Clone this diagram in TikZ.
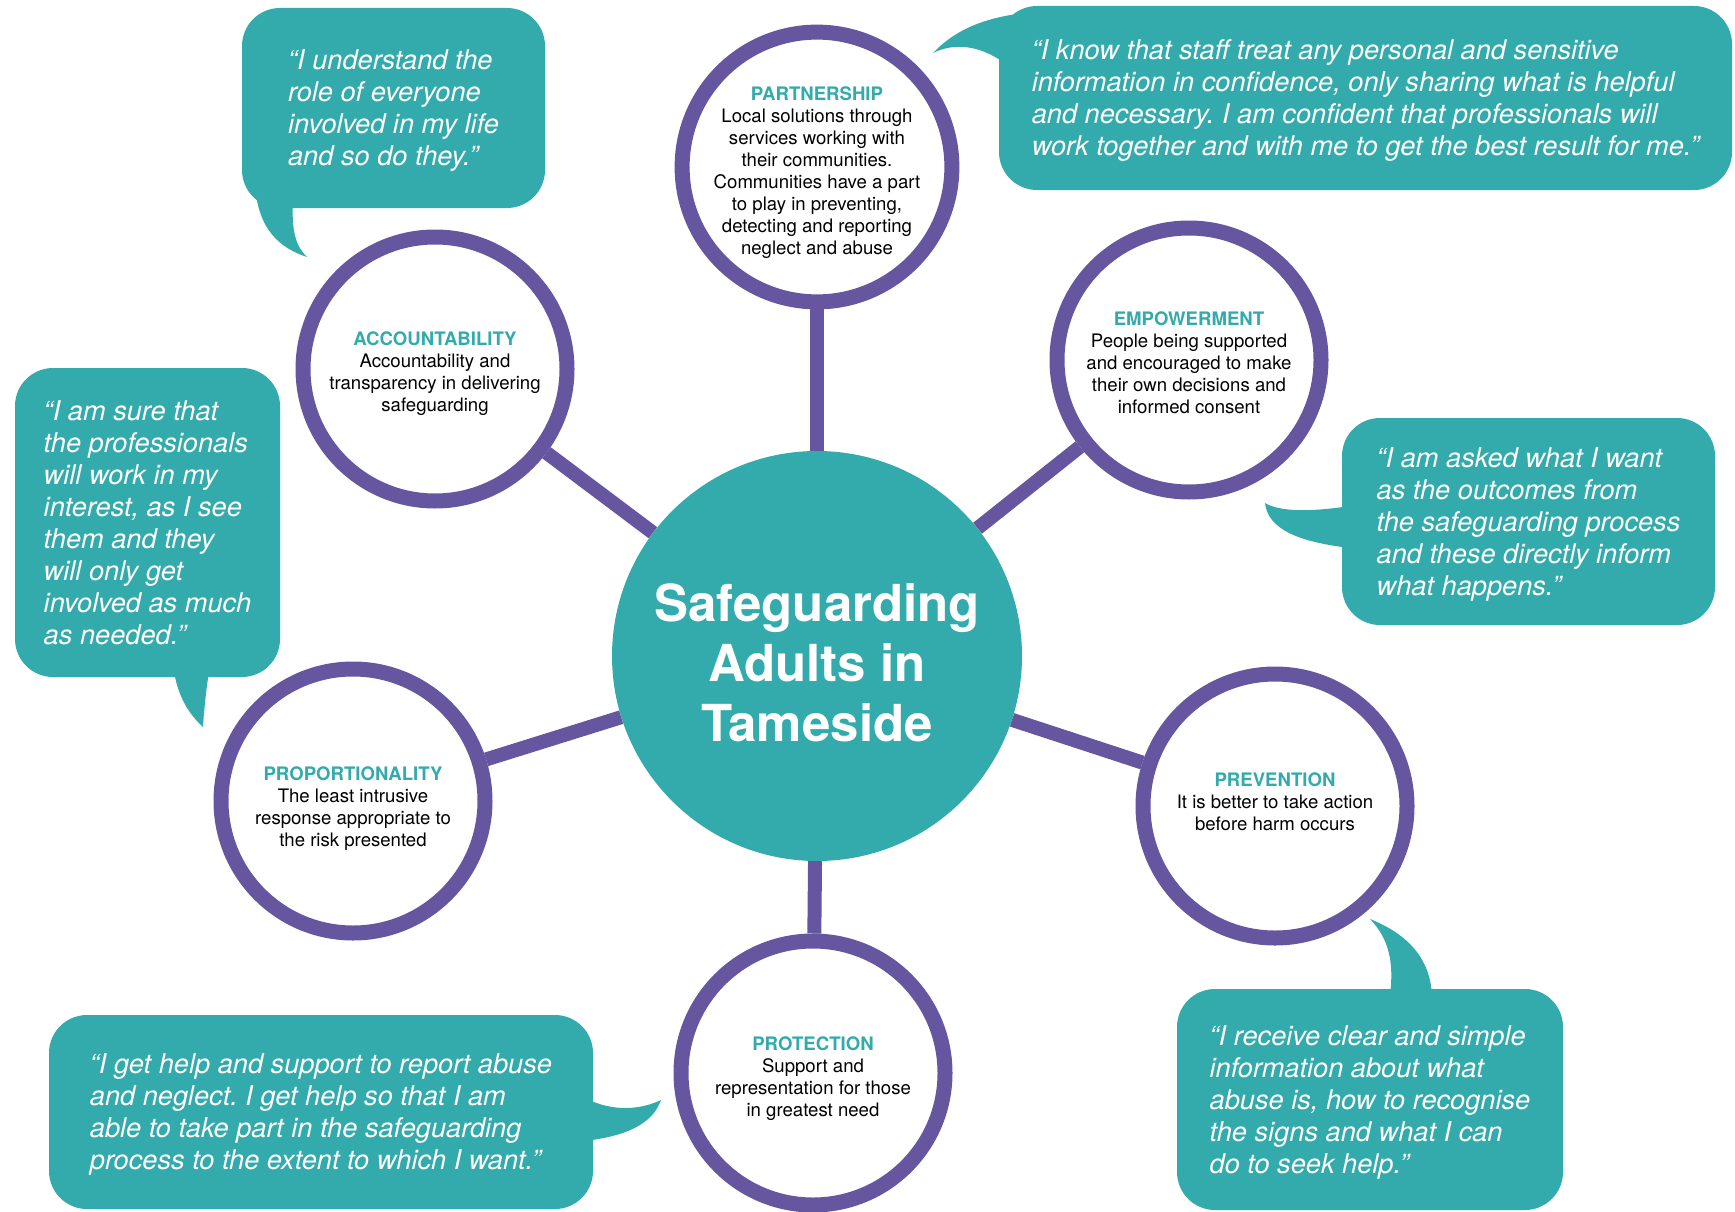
\documentclass[tikz,border=0pt]{standalone}
\usepackage{fontspec}
\setmainfont{TeX Gyre Heros}
\frenchspacing
\definecolor{sgteal}{RGB}{51,170,171}
\definecolor{sgpurple}{RGB}{102,86,160}

\begin{document}
\begin{tikzpicture}
[x=1pt,y=-1pt]
\tikzset{hubnode/.style={circle,fill=sgteal,minimum size=410pt,inner sep=0pt,text=white,align=center,font=\fontsize{51}{60}\selectfont\bfseries,text height=170pt,text depth=0pt}}
\tikzset{principle/.style={circle,draw=sgpurple,line width=15pt,fill=white,minimum size=264pt,inner sep=0pt,align=center,font=\fontsize{18.6}{22}\selectfont,text depth=0pt}}
\tikzset{bubble/.style={rectangle,rounded corners=38pt,fill=sgteal,text=white,align=left,inner sep=0pt,text depth=0pt,font=\fontsize{27.2}{32}\selectfont\itshape}}
\tikzset{spoke/.style={sgpurple,line width=14pt}}
\tikzset{tail/.style={fill=sgteal}}
\useasboundingbox (0,0) rectangle (1735,1212);

% centre and the six principles
\node [hubnode] (hub) at (817,656) {Safeguarding\\Adults in\\Tameside};
\node [principle,text height=174pt] (partnership) at (817,167) {\textcolor{sgteal}{\textbf{PARTNERSHIP}}\\Local solutions through\\services working with\\their communities.\\Communities have a part\\to play in preventing,\\detecting and reporting\\neglect and abuse};
\node [principle,text height=106pt] (empowerment) at (1189,360) {\textcolor{sgteal}{\textbf{EMPOWERMENT}}\\People being supported\\and encouraged to make\\their own decisions and\\informed consent};
\node [principle,text height=48pt] (prevention) at (1275,806) {\textcolor{sgteal}{\textbf{PREVENTION}}\\It is better to take action\\before harm occurs};
\node [principle,text height=87pt] (protection) at (813,1073) {\textcolor{sgteal}{\textbf{PROTECTION}}\\Support and\\representation for those\\in greatest need};
\node [principle,text height=91pt] (proportionality) at (353,801) {\textcolor{sgteal}{\textbf{PROPORTIONALITY}}\\The least intrusive\\response appropriate to\\the risk presented};
\node [principle,text height=84pt] (accountability) at (435,369) {\textcolor{sgteal}{\textbf{ACCOUNTABILITY}}\\Accountability and\\transparency in delivering\\safeguarding};

\foreach \to in {partnership,empowerment,prevention,protection,proportionality,accountability}
	\draw [spoke] (hub) -- (\to);

% speech bubbles
\fill [tail] (255,185) .. controls (258,230) and (280,248) .. (307,257) .. controls (295,245) and (290,230) .. (294,185) -- cycle;
\node [bubble,minimum width=303pt,minimum height=200pt] (qrole) at (393.5,108) {“I understand the\\role of everyone\\involved in my life\\and so do they.”};

\fill [tail] (933,53) .. controls (955,30) and (985,16) .. (1035,12) -- (1035,62) -- (1003,62) .. controls (980,46) and (955,42) .. (933,53) -- cycle;
\node [bubble,minimum width=733pt,minimum height=184pt] (qconfidence) at (1365.5,98) {“I know that staff treat any personal and sensitive\\information in confidence, only sharing what is helpful\\and necessary. I am confident that professionals will\\work together and with me to get the best result for me.”};

\fill [tail] (170,665) -- (175,677) .. controls (180,700) and (190,715) .. (203,727) .. controls (204,710) and (206,690) .. (210,665) -- cycle;
\node [bubble,minimum width=265pt,minimum height=309pt] (qinterest) at (147.5,522.5) {“I am sure that\\the professionals\\will work in my\\interest, as I see\\them and they\\will only get\\involved as much\\as needed.”};

\fill [tail] (1265,503) .. controls (1280,512) and (1310,512) .. (1350,506) -- (1350,548) .. controls (1300,542) and (1268,530) .. (1265,503) -- cycle;
\node [bubble,minimum width=373pt,minimum height=207pt] (qoutcomes) at (1528.5,521.5) {“I am asked what I want\\as the outcomes from\\the safeguarding process\\and these directly inform\\what happens.”};

\fill [tail] (585,1098) .. controls (612,1112) and (640,1110) .. (661,1100) .. controls (652,1125) and (625,1136) .. (585,1141) -- cycle;
\node [bubble,minimum width=544pt,minimum height=194pt] (qreport) at (321,1112) {“I get help and support to report abuse\\and neglect. I get help so that I am\\able to take part in the safeguarding\\process to the extent to which I want.”};

\fill [tail] (1390,995) .. controls (1395,955) and (1385,935) .. (1370,919) .. controls (1410,935) and (1430,960) .. (1432,995) -- cycle;
\node [bubble,minimum width=386pt,minimum height=221pt] (qsigns) at (1370,1099.5) {“I receive clear and simple\\information about what\\abuse is, how to recognise\\the signs and what I can\\do to seek help.”};
\end{tikzpicture}
\end{document}
